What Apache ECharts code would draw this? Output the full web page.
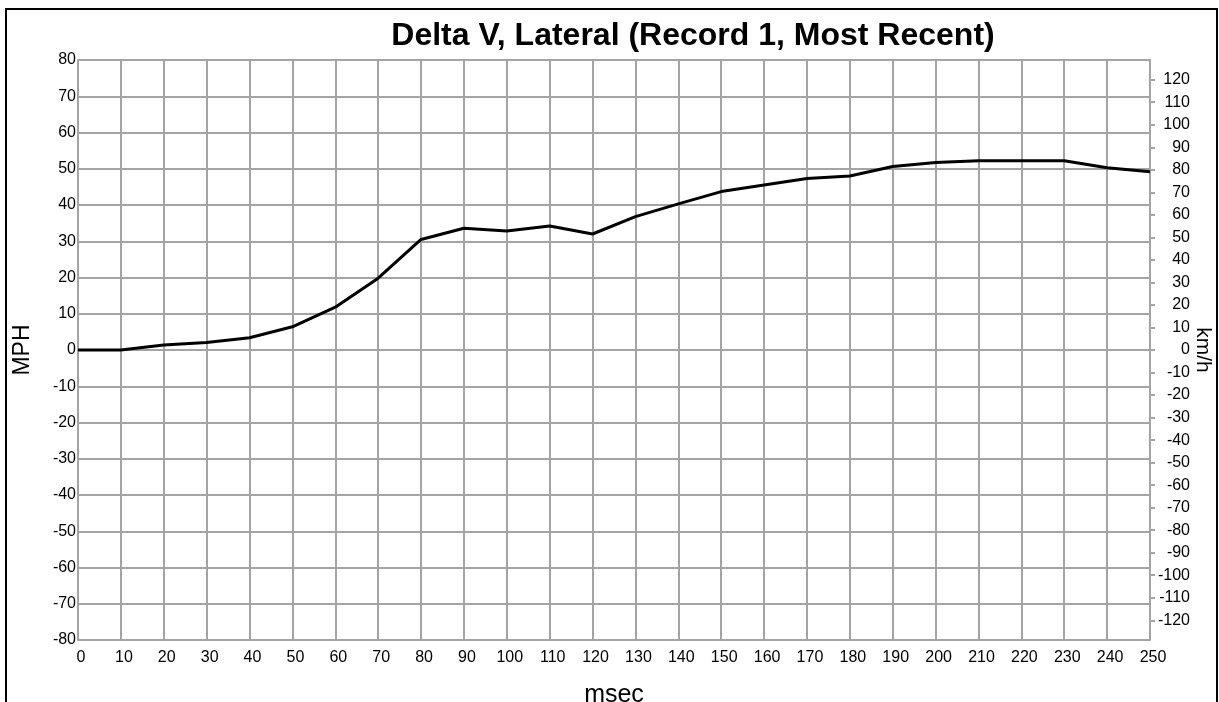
<!DOCTYPE html>
<html>
<head>
<meta charset="utf-8">
<script src="https://cdn.jsdelivr.net/npm/echarts@6/dist/echarts.min.js"></script>
<style>
html,body{margin:0;padding:0;background:#fff;}
#c{width:1219px;height:702px;}
</style>
</head>
<body>
<div id="c"></div>
<script>
const msec = [0,10,20,30,40,50,60,70,80,90,100,110,120,130,140,150,160,170,180,190,200,210,220,230,240,250];
const mph  = [0,0,1.4,2.1,3.4,6.4,11.8,19.8,30.5,33.6,32.8,34.2,32.0,36.8,40.3,43.7,45.5,47.3,48.0,50.6,51.7,52.2,52.2,52.2,50.3,49.2];
const kmhTicks = [-120,-110,-100,-90,-80,-70,-60,-50,-40,-30,-20,-10,0,10,20,30,40,50,60,70,80,90,100,110,120];
const MPH_TO_KMH = 1.609344;

const chart = echarts.init(document.getElementById('c'), null, {renderer:'canvas'});
const gridColor = '#a4a4a4';
const font = 'Liberation Sans, Arial, Helvetica, sans-serif';
chart.setOption({
  animation:false,
  backgroundColor:'#fff',
  title:{
    text:'Delta V, Lateral (Record 1, Most Recent)',
    left:688, top:15, textAlign:'center',
    textStyle:{fontFamily:font, fontWeight:'bold', fontSize:32, color:'#000'}
  },
  graphic:[{
    type:'rect', shape:{x:6,y:9,width:1211,height:740},
    style:{fill:'none', stroke:'#000', lineWidth:2}, silent:true, z:-1
  }],
  grid:{left:78, right:69, top:60, bottom:62, show:false, containLabel:false, outerBoundsMode:'none'},
  xAxis:{
    type:'value', min:0, max:250, interval:10,
    name:'msec', nameLocation:'middle', nameGap:43, nameMoveOverlap:false,
    nameTextStyle:{fontFamily:font, fontSize:25, color:'#000'},
    axisLine:{show:true, lineStyle:{color:gridColor, width:2}},
    axisTick:{show:true, length:5, lineStyle:{color:gridColor, width:2}},
    axisLabel:{fontFamily:font, fontSize:16, color:'#000', margin:10, padding:[0,0,0,6]},
    splitLine:{show:true, lineStyle:{color:gridColor, width:2}}
  },
  yAxis:[{
    type:'value', min:-80, max:80, interval:10,
    name:'MPH', nameLocation:'middle', nameGap:44, nameRotate:90, nameMoveOverlap:false,
    nameTextStyle:{fontFamily:font, fontSize:23, color:'#000'},
    axisLine:{show:true, lineStyle:{color:gridColor, width:2}},
    axisTick:{show:false},
    axisLabel:{fontFamily:font, fontSize:16, color:'#000', margin:2, padding:[7,0,0,0]},
    splitLine:{show:true, lineStyle:{color:gridColor, width:2}}
  },{
    type:'value', min:-80*MPH_TO_KMH, max:80*MPH_TO_KMH, position:'right',
    name:'km/h', nameLocation:'middle', nameGap:42, nameRotate:-90, nameMoveOverlap:false,
    nameTextStyle:{fontFamily:font, fontSize:21, color:'#000'},
    axisLine:{show:true, lineStyle:{color:gridColor, width:2}},
    axisTick:{show:true, length:5, customValues:kmhTicks, lineStyle:{color:gridColor, width:2}},
    axisLabel:{fontFamily:font, fontSize:16, color:'#000', customValues:kmhTicks, align:'right', margin:40},
    splitLine:{show:false}
  }],
  series:[{
    type:'line', yAxisIndex:0,
    data:msec.map((m,i)=>[m,mph[i]]),
    symbol:'none',
    lineStyle:{color:'#000', width:3},
    z:5
  }]
});
</script>
</body>
</html>
